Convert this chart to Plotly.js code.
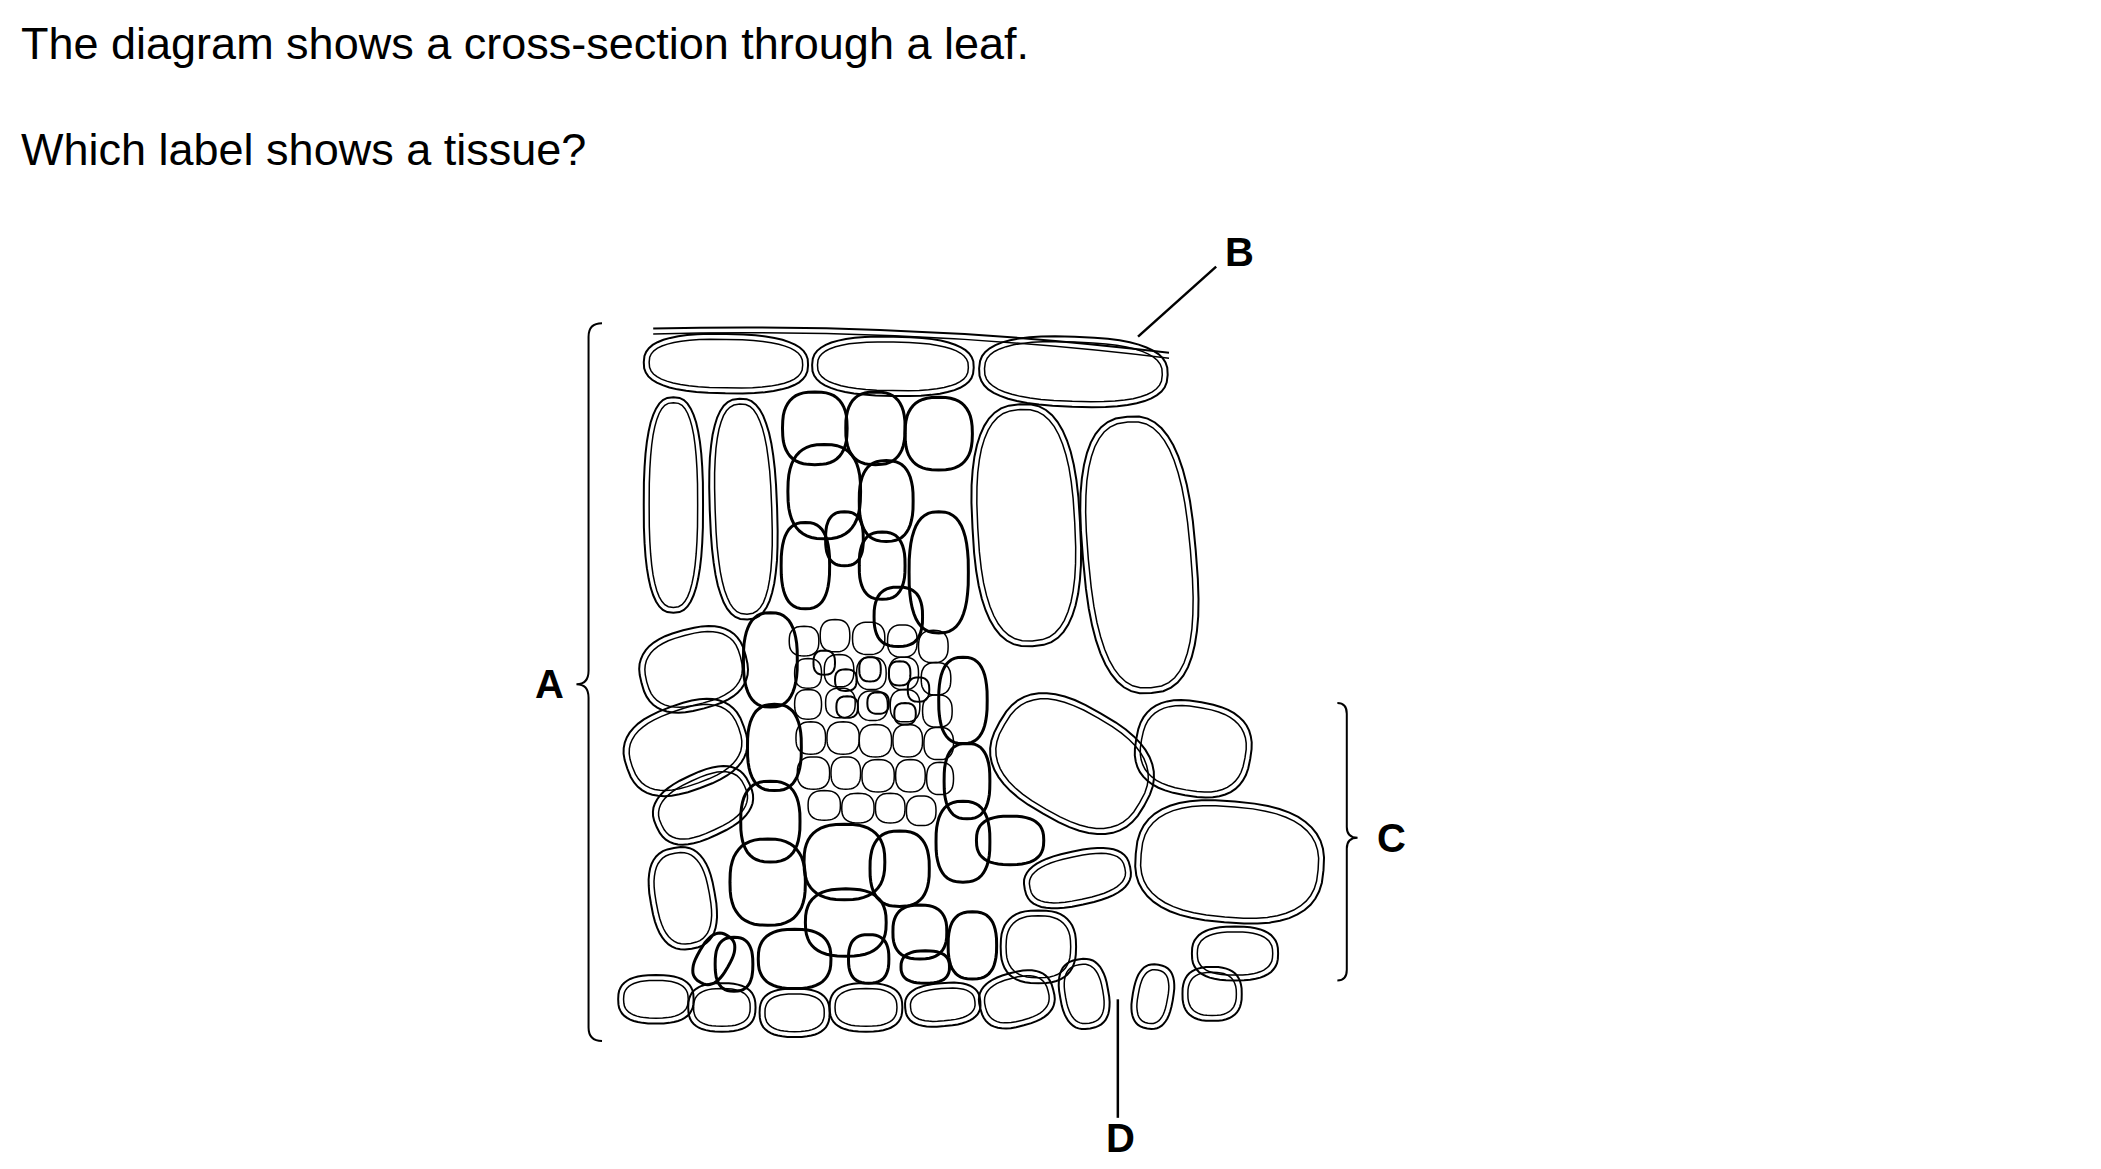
<!DOCTYPE html>
<html>
<head>
<meta charset="utf-8">
<script src="https://cdn.plot.ly/plotly-3.0.1.min.js"></script>
<style>html,body{margin:0;padding:0;background:#fff}#canvas{width:2101px;height:1169px}</style>
</head>
<body>
<div id="canvas"></div>
<script>
// diagram drawn in a 1560 x 868 coordinate frame (scaled to the window)
const W = 1560, H = 868;

// cells: [cx, cy, rx, ry, angle]
const upperEpidermis = [[539, 270, 61, 22, 1], [663, 272, 60, 22, 1], [797, 276, 70, 26, 2]];
const palisade = [[500, 375, 22, 80, 0], [552, 378, 25, 82, -2], [762, 390, 40, 90, -3], [846, 412, 42, 103, -5]];
const spongy = [
    [515, 497, 40, 30, -15], [509, 555, 46, 32, -20], [522, 598, 38, 24, -25], [507, 667, 24, 38, -10],
    [796, 567, 62, 43, 30], [886, 556, 43, 35, 10], [913, 640, 70, 45, 5], [800, 652, 40, 20, -12],
    [771, 703, 28, 27, 0], [917, 708, 32, 20, 0]
];
const lowerEpidermis = [
    [487, 742, 28, 18, 0], [536, 748, 25, 18, 0], [590, 752, 26, 18, 0], [643, 748, 27, 18, 0],
    [700, 746, 28, 16, -5], [755, 742, 28, 20, -15], [805, 738, 18, 26, -10], [856, 740, 15, 24, 10],
    [900, 738, 22, 20, 0]
];
const thickCells = [
    [605, 318, 24, 27, 0], [650, 318, 22, 27, 0], [697, 322, 25, 27, 0], [612, 365, 27, 35, 0],
    [658, 372, 20, 30, 0], [697, 425, 22, 45, 0], [598, 420, 18, 32, 0], [627, 400, 14, 20, 0],
    [655, 420, 17, 25, 0], [667, 458, 18, 22, 0], [572, 490, 20, 35, 0], [575, 555, 20, 32, 0],
    [715, 520, 18, 32, 0], [718, 580, 17, 28, 0], [572, 610, 22, 30, 0], [570, 655, 28, 32, 0],
    [627, 640, 30, 28, 0], [668, 645, 22, 28, 0], [715, 625, 20, 30, 0], [750, 624, 25, 18, 0],
    [628, 685, 30, 25, 0], [683, 692, 20, 20, 0], [722, 702, 18, 25, 0], [590, 712, 27, 22, 0],
    [645, 712, 15, 18, 0], [687, 718, 18, 12, 0], [545, 716, 14, 20, 0], [530, 712, 12, 20, 30]
];
const bundleCells = [
    [597, 476, 11, 11, 0], [620, 472, 11, 12, 0], [645, 474, 12, 12, 0], [670, 476, 11, 12, 0], [693, 480, 11, 12, 0],
    [600, 500, 10, 11, 0], [623, 498, 11, 12, 0], [647, 500, 11, 12, 0], [671, 500, 11, 12, 0], [695, 504, 11, 12, 0],
    [600, 523, 10, 11, 0], [624, 522, 11, 11, 0], [648, 524, 11, 11, 0], [672, 524, 11, 12, 0], [696, 528, 11, 12, 0],
    [602, 548, 11, 12, 0], [626, 548, 12, 12, 0], [650, 550, 12, 12, 0], [674, 550, 11, 12, 0], [697, 552, 11, 12, 0],
    [604, 574, 12, 12, 0], [628, 574, 11, 12, 0], [652, 576, 12, 12, 0], [676, 576, 11, 12, 0], [698, 578, 10, 12, 0],
    [612, 598, 12, 11, 0], [637, 600, 12, 11, 0], [661, 600, 11, 11, 0], [684, 602, 11, 11, 0]
];
const xylem = [[612, 492, 8, 9, 0], [628, 505, 8, 8, 0], [646, 497, 8, 9, 0], [668, 500, 8, 9, 0], [682, 512, 8, 9, 0], [629, 525, 8, 8, 0], [652, 522, 8, 8, 0], [672, 530, 8, 8, 0]];

// labels [text, x, y]
const labels = [["A", 408, 508], ["B", 920, 187], ["C", 1033, 622], ["D", 832, 845]];
const question = ["The diagram shows a cross-section through a leaf.", "Which label shows a tissue?"];

function cellPath(c, shrink) {
    const [cx, cy, rx0, ry0, ang] = c;
    const rx = rx0 - shrink, ry = ry0 - shrink, a = ang * Math.PI / 180, p = 2.6;
    let d = "";
    for (let i = 0; i < 48; i++) {
        const t = i / 48 * 2 * Math.PI;
        const ct = Math.cos(t), st = Math.sin(t);
        const x = rx * Math.sign(ct) * Math.pow(Math.abs(ct), 2 / p);
        const y = ry * Math.sign(st) * Math.pow(Math.abs(st), 2 / p);
        const X = cx + x * Math.cos(a) - y * Math.sin(a);
        const Y = cy + x * Math.sin(a) + y * Math.cos(a);
        d += (i ? "L" : "M") + X.toFixed(1) + "," + Y.toFixed(1);
    }
    return d + "Z";
}

const shapes = [];
function add(path, w) {
    shapes.push({ type: "path", xref: "x", yref: "y", path: path, line: { color: "#000", width: w } });
}

[upperEpidermis, palisade, spongy, lowerEpidermis].forEach((list) => {
    list.forEach((c) => { add(cellPath(c, 0), 2); add(cellPath(c, 4), 1.5); });
});
thickCells.forEach((c) => add(cellPath(c, 0), 3));
bundleCells.forEach((c) => add(cellPath(c, 0), 1.5));
xylem.forEach((c) => add(cellPath(c, 0), 2));

// cuticle
add("M485,244 Q680,239 868,262", 2);
add("M485,248 Q680,243 868,266", 1.5);
// pointer lines
add("M903,198 L845,250", 2.5);
add("M830,742 L830,830", 2.5);
// braces
add("M447,240 Q437,240 437,250 L437,498 Q437,508 428,508 Q437,508 437,518 L437,763 Q437,773 447,773", 2);
add("M993,522 Q1000,522 1000,530 L1000,614 Q1000,622 1008,622 Q1000,622 1000,630 L1000,720 Q1000,728 993,728", 2);

const annotations = labels.map((l) => ({
    text: "<b>" + l[0] + "</b>", x: l[1], y: l[2], xref: "x", yref: "y", showarrow: false,
    font: { family: "Liberation Sans, Arial", size: 40, color: "#000" }
}));
question.forEach((q, i) => annotations.push({
    text: q, x: 14, y: i ? 111 : 32, xref: "x", yref: "y", xanchor: "left", showarrow: false,
    font: { family: "Liberation Sans, Arial", size: 45, color: "#000" }
}));

Plotly.newPlot("canvas", [], {
    width: 2101, height: 1169, margin: { l: 0, r: 0, t: 0, b: 0 },
    paper_bgcolor: "#fff", plot_bgcolor: "#fff", showlegend: false,
    xaxis: { range: [0, W], visible: false },
    yaxis: { range: [H, 0], visible: false },
    shapes: shapes, annotations: annotations
}, { staticPlot: true });
</script>
</body>
</html>
